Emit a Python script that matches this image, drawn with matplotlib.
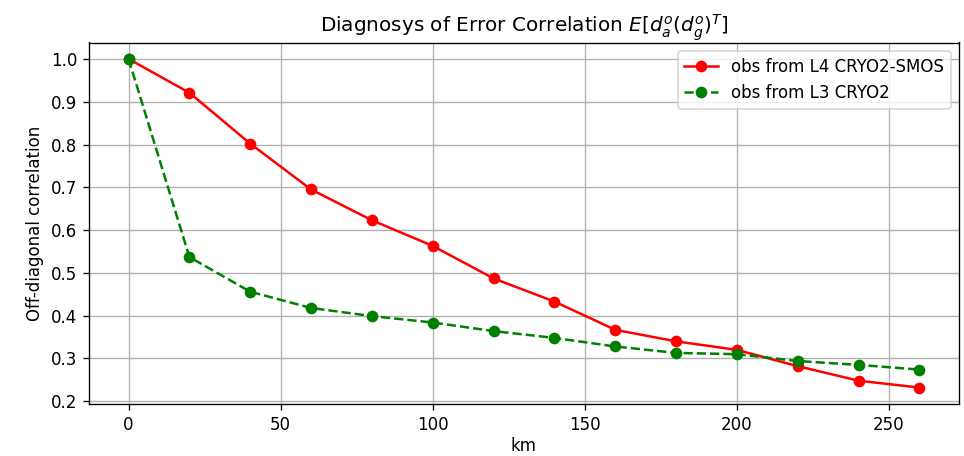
import matplotlib
matplotlib.use("Agg")
import matplotlib.pyplot as plt

km = [0, 20, 40, 60, 80, 100, 120, 140, 160, 180, 200, 220, 240, 260]
l4_cryo2_smos = [1.0, 0.921, 0.802, 0.695, 0.623, 0.563, 0.487, 0.433, 0.367, 0.340, 0.320, 0.282, 0.248, 0.232]
l3_cryo2 = [1.0, 0.537, 0.456, 0.418, 0.399, 0.384, 0.364, 0.348, 0.328, 0.313, 0.310, 0.294, 0.285, 0.274]

W, H, DPI = 964, 456, 120
fig = plt.figure(figsize=(W / DPI, H / DPI), dpi=DPI)
ax = fig.add_axes([89 / W, 1 - 404 / H, (959 - 89) / W, (404 - 42.5) / H])
ax.plot(km, l4_cryo2_smos, 'o-', color='red', label='obs from L4 CRYO2-SMOS')
ax.plot(km, l3_cryo2, 'o--', color='green', label='obs from L3 CRYO2')
ax.grid(True)
ax.set_xlabel('km', labelpad=2)
ax.set_ylabel('Off-diagonal correlation')
ax.set_title(r'Diagnosys of Error Correlation $E[d_a^o(d_g^o)^T]$')
ax.legend(loc='upper right')
fig.savefig('out.png', dpi=DPI)
